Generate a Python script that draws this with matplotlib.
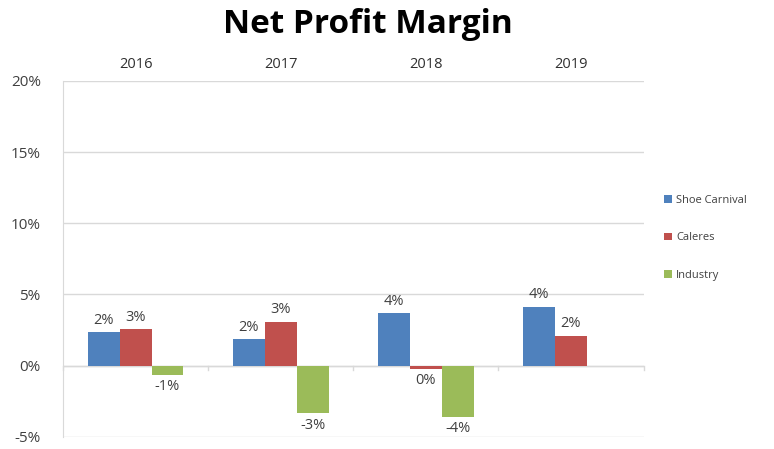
import numpy as np
import matplotlib.pyplot as plt
from matplotlib.ticker import FuncFormatter

years = ["2016", "2017", "2018", "2019"]
series = ["Shoe Carnival", "Caleres", "Industry"]
shoe_carnival = [2.35, 1.85, 3.7, 4.15]
caleres = [2.55, 3.1, -0.2, 2.1]
industry = [-0.65, -3.35, -3.6, np.nan]
colors = ["#4F81BD", "#C0504D", "#9BBB59"]

plt.rcParams['font.family'] = ['Open Sans', 'DejaVu Sans']

fig = plt.figure(figsize=(7.74, 4.49), dpi=100)
ax = fig.add_axes([0.0814, 0.027, 0.75, 0.793])

x = np.arange(len(years))
w = 0.22
for i, (name, vals, c) in enumerate(zip(series, [shoe_carnival, caleres, industry], colors)):
    pos = x + (i - 1) * w
    ax.bar(pos, vals, width=w, color=c, label=name, zorder=3)
    for px, v in zip(pos, vals):
        if np.isnan(v):
            continue
        lbl = f"{int(round(v))}%"
        if v >= 0:
            ax.text(px, v + 0.3, lbl, ha='center', va='bottom', fontsize=10.5, color='#404040')
        else:
            ax.text(px, v - 0.3, lbl, ha='center', va='top', fontsize=10.5, color='#404040')

ax.set_xlim(-0.5, 3.5)
ax.set_ylim(-5, 20)
ax.set_yticks(np.arange(-5, 21, 5))
ax.yaxis.set_major_formatter(FuncFormatter(lambda v, p: f"{int(v)}%"))
ax.grid(axis='y', color='#D9D9D9', linewidth=1, zorder=0)

ax.xaxis.tick_top()
ax.set_xticks(x)
ax.set_xticklabels(years)
ax.tick_params(axis='x', length=0, labelsize=10.5, colors='#303030', pad=6)
ax.tick_params(axis='y', length=0, labelsize=11, colors='#404040', pad=16)

# zero line with small category separators
ax.axhline(0, color='#D9D9D9', linewidth=1, zorder=2)
for b in np.arange(-0.5, 4, 1.0):
    ax.plot([b, b], [0, -0.3], color='#D9D9D9', linewidth=1, zorder=2, clip_on=False)

for s in ['top', 'right', 'bottom']:
    ax.spines[s].set_visible(False)
ax.spines['left'].set_color('#D9D9D9')

fig.text(0.475, 0.945, "Net Profit Margin", ha='center', va='center',
         fontsize=24, fontweight='bold', color='black')

fig.legend(loc='center left', bbox_to_anchor=(0.845, 0.47), frameon=False,
           fontsize=8, handlelength=0.7, handleheight=0.7, labelspacing=2.4,
           handletextpad=0.4, labelcolor='#404040')

fig.savefig("out.png", dpi=100)
